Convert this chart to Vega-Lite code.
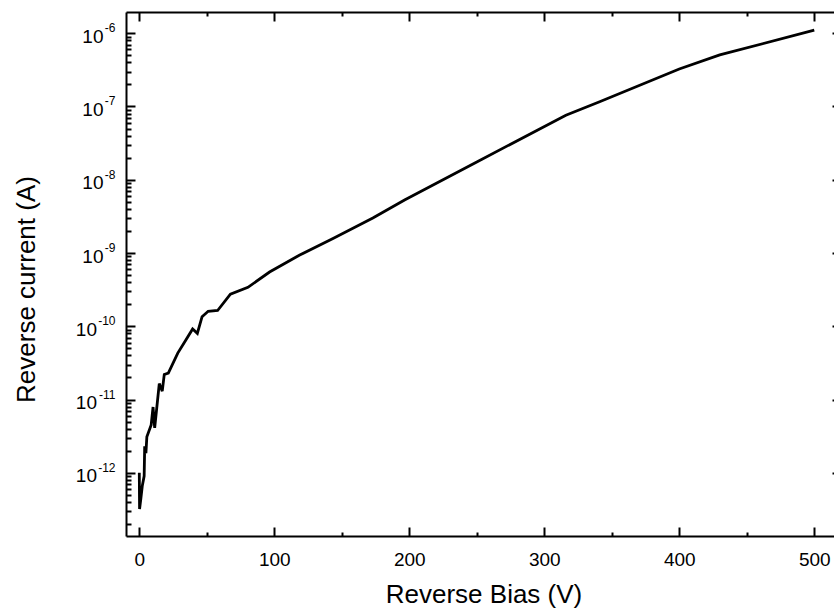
{
  "$schema": "https://vega.github.io/schema/vega-lite/v6.json",
  "width": 715,
  "height": 524,
  "autosize": {"type": "none"},
  "padding": {"left": 126, "top": 12, "right": -7, "bottom": 74},
  "background": "white",
  "config": {
    "view": {"stroke": null},
    "axis": {
      "grid": false,
      "labelFont": "Liberation Sans",
      "titleFont": "Liberation Sans",
      "labelColor": "black",
      "titleColor": "black",
      "domainColor": "black",
      "tickColor": "black",
      "titleFontWeight": "normal",
      "domainWidth": 2,
      "tickWidth": 2,
      "labelOverlap": false,
      "labelFlush": false,
      "labelBound": false
    }
  },
  "data": {
    "values": [
      {"V": 0, "I": 1.0e-12},
      {"V": 0.2, "I": 3.2e-13},
      {"V": 1.2, "I": 4.5e-13},
      {"V": 2.2, "I": 6.6e-13},
      {"V": 3.6, "I": 9.0e-13},
      {"V": 4.0, "I": 2.3e-12},
      {"V": 4.9, "I": 1.85e-12},
      {"V": 5.6, "I": 3.1e-12},
      {"V": 8.8, "I": 4.5e-12},
      {"V": 10.2, "I": 7.9e-12},
      {"V": 11.4, "I": 4.1e-12},
      {"V": 14.8, "I": 1.65e-11},
      {"V": 17.0, "I": 1.3e-11},
      {"V": 18.5, "I": 2.2e-11},
      {"V": 21.5, "I": 2.3e-11},
      {"V": 28.5, "I": 4.3e-11},
      {"V": 34.5, "I": 6.5e-11},
      {"V": 39.5, "I": 9.2e-11},
      {"V": 43.0, "I": 8.0e-11},
      {"V": 46.5, "I": 1.35e-10},
      {"V": 51.0, "I": 1.6e-10},
      {"V": 58.0, "I": 1.64e-10},
      {"V": 67.5, "I": 2.75e-10},
      {"V": 80.5, "I": 3.4e-10},
      {"V": 96.5, "I": 5.5e-10},
      {"V": 118.5, "I": 9.3e-10},
      {"V": 143.5, "I": 1.58e-9},
      {"V": 173.0, "I": 3.0e-9},
      {"V": 196.5, "I": 5.3e-9},
      {"V": 250.0, "I": 1.75e-8},
      {"V": 316.0, "I": 7.6e-8},
      {"V": 341.0, "I": 1.16e-7},
      {"V": 400.0, "I": 3.25e-7},
      {"V": 430.0, "I": 5.06e-7},
      {"V": 500.0, "I": 1.1e-6}
    ]
  },
  "layer": [
    {
      "mark": {"type": "line", "color": "black", "strokeWidth": 2.8},
      "encoding": {
        "x": {
          "field": "V", "type": "quantitative",
          "scale": {"domain": [-9.85, 519.8], "nice": false, "zero": false},
          "axis": {
            "orient": "bottom",
            "values": [0, 100, 200, 300, 400, 500],
            "ticks": false, "domain": false,
            "labelFontSize": 19, "labelPadding": 14,
            "title": "Reverse Bias (V)", "titleFontSize": 26,
            "titleBaseline": "alphabetic", "titleY": 66
          }
        },
        "y": {
          "field": "I", "type": "quantitative",
          "scale": {"type": "log", "domain": [1.37e-13, 1.95e-6], "nice": false},
          "axis": {
            "orient": "left",
            "values": [1e-12, 1e-11, 1e-10, 1e-9, 1e-8, 1e-7, 1e-6],
            "ticks": false, "domain": false,
            "labelExpr": "'10'",
            "labelFontSize": 19,
            "labelAlign": "right",
            "labelBaseline": "middle",
            "labelOffset": 3,
            "labelPadding": {"condition": {"test": "datum.value > 5e-10", "value": 23}, "value": 29.5},
            "title": "Reverse current (A)", "titleFontSize": 26, "titlePadding": 36,
            "titleY": 277
          }
        }
      }
    },
    {
      "mark": {"type": "line", "strokeOpacity": 0},
      "encoding": {
        "x": {
          "field": "V", "type": "quantitative",
          "scale": {"domain": [-9.85, 519.8], "nice": false, "zero": false},
          "axis": {
            "orient": "bottom",
            "values": [0, 50, 100, 150, 200, 250, 300, 350, 400, 450, 500],
            "labels": false, "title": null,
            "tickSize": {"condition": {"test": "datum.value % 100 === 0", "value": -9}, "value": -4}
          }
        },
        "y": {
          "field": "I", "type": "quantitative",
          "scale": {"type": "log", "domain": [1.37e-13, 1.95e-6], "nice": false},
          "axis": {
            "orient": "left",
            "values": [1e-12, 1e-11, 1e-10, 1e-9, 1e-8, 1e-7, 1e-6],
            "ticks": false, "domain": false,
            "labelExpr": "'-' + round(-log(datum.value) / LN10)",
            "labelFontSize": 12,
            "labelAlign": "right",
            "labelBaseline": "middle",
            "labelOffset": -5.5,
            "labelPadding": 11,
            "title": null
          }
        }
      }
    },
    {
      "mark": {"type": "line", "strokeOpacity": 0},
      "encoding": {
        "x": {
          "field": "V", "type": "quantitative",
          "scale": {"domain": [-9.85, 519.8], "nice": false, "zero": false},
          "axis": {
            "orient": "top",
            "values": [0, 50, 100, 150, 200, 250, 300, 350, 400, 450, 500],
            "labels": false, "title": null,
            "tickSize": {"condition": {"test": "datum.value % 100 === 0", "value": -9}, "value": -4}
          }
        },
        "y": {
          "field": "I", "type": "quantitative",
          "scale": {"type": "log", "domain": [1.37e-13, 1.95e-6], "nice": false},
          "axis": {
            "orient": "left",
            "values": [2e-13, 3e-13, 4e-13, 5e-13, 6e-13, 7e-13, 8e-13, 9e-13,
                       1e-12, 2e-12, 3e-12, 4e-12, 5e-12, 6e-12, 7e-12, 8e-12, 9e-12,
                       1e-11, 2e-11, 3e-11, 4e-11, 5e-11, 6e-11, 7e-11, 8e-11, 9e-11,
                       1e-10, 2e-10, 3e-10, 4e-10, 5e-10, 6e-10, 7e-10, 8e-10, 9e-10,
                       1e-9, 2e-9, 3e-9, 4e-9, 5e-9, 6e-9, 7e-9, 8e-9, 9e-9,
                       1e-8, 2e-8, 3e-8, 4e-8, 5e-8, 6e-8, 7e-8, 8e-8, 9e-8,
                       1e-7, 2e-7, 3e-7, 4e-7, 5e-7, 6e-7, 7e-7, 8e-7, 9e-7,
                       1e-6],
            "labels": false, "title": null,
            "tickSize": {"condition": {"test": "abs(log(datum.value) / LN10 - round(log(datum.value) / LN10)) < 0.001", "value": -9}, "value": -5}
          }
        }
      }
    },
    {
      "mark": {"type": "line", "strokeOpacity": 0},
      "encoding": {
        "x": {
          "field": "V", "type": "quantitative",
          "scale": {"domain": [-9.85, 519.8], "nice": false, "zero": false},
          "axis": null
        },
        "y": {
          "field": "I", "type": "quantitative",
          "scale": {"type": "log", "domain": [1.37e-13, 1.95e-6], "nice": false},
          "axis": {
            "orient": "right",
            "values": [2e-13, 3e-13, 4e-13, 5e-13, 6e-13, 7e-13, 8e-13, 9e-13,
                       1e-12, 2e-12, 3e-12, 4e-12, 5e-12, 6e-12, 7e-12, 8e-12, 9e-12,
                       1e-11, 2e-11, 3e-11, 4e-11, 5e-11, 6e-11, 7e-11, 8e-11, 9e-11,
                       1e-10, 2e-10, 3e-10, 4e-10, 5e-10, 6e-10, 7e-10, 8e-10, 9e-10,
                       1e-9, 2e-9, 3e-9, 4e-9, 5e-9, 6e-9, 7e-9, 8e-9, 9e-9,
                       1e-8, 2e-8, 3e-8, 4e-8, 5e-8, 6e-8, 7e-8, 8e-8, 9e-8,
                       1e-7, 2e-7, 3e-7, 4e-7, 5e-7, 6e-7, 7e-7, 8e-7, 9e-7,
                       1e-6],
            "labels": false, "title": null,
            "tickSize": {"condition": {"test": "abs(log(datum.value) / LN10 - round(log(datum.value) / LN10)) < 0.001", "value": -9}, "value": -5}
          }
        }
      }
    }
  ],
  "resolve": {"axis": {"x": "independent", "y": "independent"}}
}
